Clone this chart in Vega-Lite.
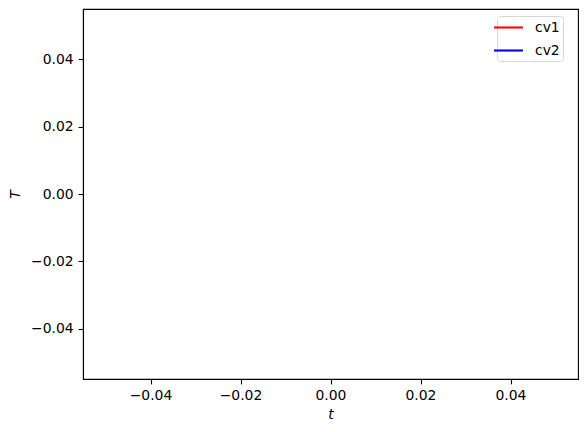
{
  "$schema": "https://vega.github.io/schema/vega-lite/v6.json",
  "width": 495,
  "height": 370,
  "autosize": {"type": "none"},
  "padding": {"left": 83, "top": 9, "right": 9, "bottom": 53},
  "background": "white",
  "config": {
    "font": "DejaVu Sans",
    "view": {"stroke": "black", "strokeWidth": 1.1},
    "axis": {
      "domainColor": "black",
      "domainWidth": 1.1,
      "tickColor": "black",
      "tickWidth": 1.1,
      "tickSize": 4.9,
      "labelFont": "DejaVu Sans",
      "labelFontSize": 13.9,
      "labelColor": "black",
      "labelPadding": 4.9,
      "titleFont": "DejaVu Sans",
      "titleFontSize": 13.9,
      "titleFontWeight": "normal",
      "titleFontStyle": "italic",
      "titleColor": "black",
      "grid": false
    }
  },
  "data": {"values": []},
  "mark": {"type": "line", "strokeWidth": 2.1},
  "encoding": {
    "x": {
      "field": "t",
      "type": "quantitative",
      "scale": {"domain": [-0.055, 0.055], "nice": false, "zero": false},
      "axis": {"title": "t", "values": [-0.04, -0.02, 0, 0.02, 0.04], "format": ".2f", "titlePadding": 5}
    },
    "y": {
      "field": "T",
      "type": "quantitative",
      "scale": {"domain": [-0.055, 0.055], "nice": false, "zero": false},
      "axis": {"title": "T", "values": [-0.04, -0.02, 0, 0.02, 0.04], "format": ".2f", "titlePadding": 8}
    },
    "color": {
      "field": "series",
      "type": "nominal",
      "scale": {"domain": ["cv1", "cv2"], "range": ["red", "blue"]},
      "legend": {
        "title": null,
        "orient": "none",
        "legendX": 414,
        "legendY": 7,
        "symbolType": "M-2,0H2",
        "symbolSize": 210,
        "symbolStrokeWidth": 2.1,
        "labelFontSize": 13.9,
        "labelFont": "DejaVu Sans",
        "labelColor": "black",
        "labelOffset": 18,
        "rowPadding": 7,
        "strokeColor": "#d6d6d6",
        "fillColor": "white",
        "cornerRadius": 3,
        "padding": 3
      }
    }
  }
}
